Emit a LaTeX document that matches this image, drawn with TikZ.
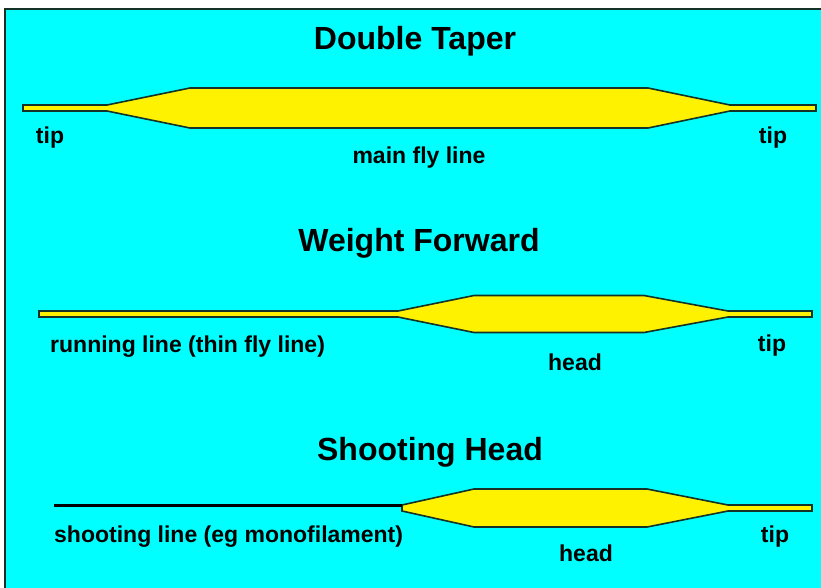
\documentclass[tikz,border=0pt]{standalone}
\usepackage{fontspec}
\setmainfont{Liberation Sans}
\usetikzlibrary{positioning}

\definecolor{skycyan}{RGB}{0,255,255}
\definecolor{rimdark}{RGB}{20,50,40}
\tikzset{
  flyline/.style={fill=yellow,draw=rimdark,line width=1.6pt,line join=miter},
  heading/.style={font=\fontsize{32}{34}\selectfont\bfseries,inner sep=0pt},
  lbl/.style={font=\fontsize{23}{25}\selectfont\bfseries,inner sep=0pt}
}

\begin{document}
\begin{tikzpicture}[x=1pt,y=-1pt]
\useasboundingbox (0,0) rectangle (821,587);
\fill[white] (0,0) rectangle (821,587);
\filldraw[fill=skycyan,draw=rimdark,line width=2pt] (5,9) rectangle (840,600);

% tapered lines: centre y / start / taper / full / full end / thin / end / half height
\foreach \y/\s/\p/\q/\r/\t/\e/\h in {108/23/107/190/648/730/816/20,
                                     314/39/398/474/644/728/812/18.5,
                                     508/402/402/474/647/728/812/19}{
  \draw[flyline] (\s,\y-3)--(\p,\y-3)--(\q,\y-\h)--(\r,\y-\h)--(\t,\y-3)--(\e,\y-3)
    --(\e,\y+3)--(\t,\y+3)--(\r,\y+\h)--(\q,\y+\h)--(\p,\y+3)--(\s,\y+3)--cycle;
}
% mono shooting line
\coordinate (sh-start) at (54,505);
\coordinate (sh-join) at (402,505);
\draw[black,line width=3pt] (sh-start)--(sh-join);

\node[heading] (dt-title) at (415,41) {Double Taper};
\node[lbl] (dt-tipl) at (50,138) {tip};
\node[lbl] (dt-main) at (419,158) {main fly line};
\node[lbl] (dt-tipr) at (773,138) {tip};

\node[heading] (wf-title) at (419,243) {Weight Forward};
\node[lbl,anchor=west] (wf-run) at (50,347) {running line (thin fly line)};
\node[lbl] (wf-head) at (575,362) {head};
\node[lbl] (wf-tip) at (772,346) {tip};

\node[heading] (sh-title) at (430,452) {Shooting Head};
\node[lbl,anchor=west] (sh-run) at (54,537) {shooting line (eg monofilament)};
\node[lbl] (sh-head) at (586,553) {head};
\node[lbl] (sh-tip) at (775,537) {tip};
\end{tikzpicture}
\end{document}
